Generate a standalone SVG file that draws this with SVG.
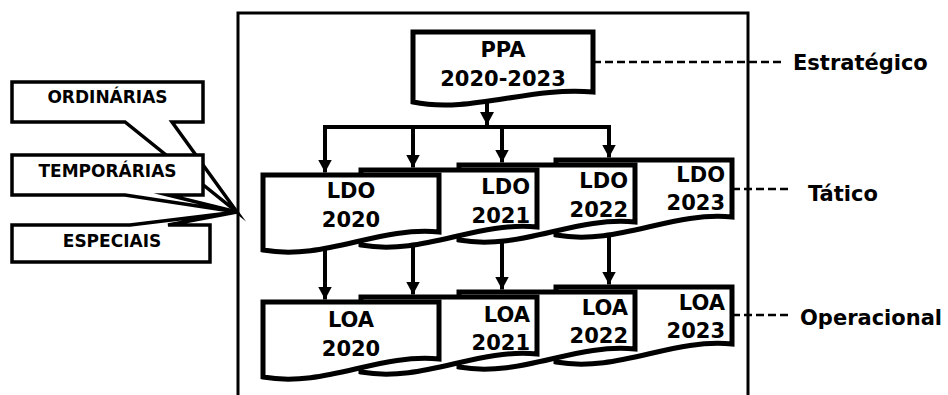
<svg xmlns="http://www.w3.org/2000/svg" width="948" height="395" viewBox="0 0 948 395">
<style>
text{font-family:"DejaVu Sans","Verdana",sans-serif;font-weight:bold;fill:#000}
.t{font-size:21px}
.s{font-size:17px}
.doc{fill:#fff;stroke:#000;stroke-width:5;stroke-linejoin:miter}
.call{fill:#fff;stroke:#000;stroke-width:3.5;stroke-miterlimit:10}
.ln{fill:none;stroke:#000;stroke-width:4}
.dash{fill:none;stroke:#000;stroke-width:2.5;stroke-dasharray:8 4}
</style>
<defs>
<marker id="ah" markerUnits="userSpaceOnUse" markerWidth="13" markerHeight="14" viewBox="0 0 13 14" refX="13" refY="7" orient="auto"><path d="M0,0 L13,7 L0,14 z" fill="#000"/></marker>
<path id="doc" d="M0,0 H176 V57 C115,51 62,86 0,75 Z"/>
</defs>
<rect width="948" height="395" fill="#fff"/>
<g id="frame"><rect x="238" y="13" width="510" height="400" fill="none" stroke="#000" stroke-width="3"/></g>
<g id="connectors">
<path class="ln" d="M487,100 V125" marker-end="url(#ah)"/>
<path class="ln" d="M325,127 H609" stroke-linecap="square"/>
<path class="ln" d="M325,127 V172.5" marker-end="url(#ah)"/>
<path class="ln" d="M413,127 V167.5" marker-end="url(#ah)"/>
<path class="ln" d="M502,127 V162.5" marker-end="url(#ah)"/>
<path class="ln" d="M609,127 V157.5" marker-end="url(#ah)"/>
<path class="ln" d="M325,225 V299.5" marker-end="url(#ah)"/>
<path class="ln" d="M413,225 V294.5" marker-end="url(#ah)"/>
<path class="ln" d="M502,215 V289.5" marker-end="url(#ah)"/>
<path class="ln" d="M609,210 V284.5" marker-end="url(#ah)"/>
<path class="dash" d="M593,62 H785"/>
<path class="dash" d="M732,189 H792"/>
<path class="dash" d="M732,315 H792"/>
</g>
<g id="callout-ordinarias">
<path class="call" d="M12,82 H203 V122 H172 L237,212 L125,122 H12 Z"/>
<text class="s" x="107.5" y="103" text-anchor="middle">ORDINÁRIAS</text>
</g>
<g id="callout-temporarias">
<path class="call" d="M12,155 H203 V195 H168 L237,212 L125,195 H12 Z"/>
<text class="s" x="107.5" y="177" text-anchor="middle">TEMPORÁRIAS</text>
</g>
<g id="callout-especiais">
<path class="call" d="M12,225 H130 L237,212 L168,225 H210 V262 H12 Z"/>
<text class="s" x="112" y="247" text-anchor="middle">ESPECIAIS</text>
</g>
<g id="ppa">
<path class="doc" stroke-width="4.5" d="M413,32 H593 V92 C530,86 470,114 413,102 Z"/>
<text class="t" x="503" y="57" text-anchor="middle">PPA</text>
<text class="t" x="503" y="86" text-anchor="middle">2020-2023</text>
</g>
<g id="ldo-2023">
<use href="#doc" class="doc" x="556" y="160"/>
<text class="t" x="725" y="182" text-anchor="end">LDO</text>
<text class="t" x="725" y="210" text-anchor="end">2023</text>
</g>
<g id="ldo-2022">
<use href="#doc" class="doc" x="459" y="165"/>
<text class="t" x="628" y="188" text-anchor="end">LDO</text>
<text class="t" x="628" y="217" text-anchor="end">2022</text>
</g>
<g id="ldo-2021">
<use href="#doc" class="doc" x="361" y="170"/>
<text class="t" x="530" y="194" text-anchor="end">LDO</text>
<text class="t" x="530" y="223" text-anchor="end">2021</text>
</g>
<g id="ldo-2020">
<use href="#doc" class="doc" x="263" y="175"/>
<text class="t" x="351" y="198" text-anchor="middle">LDO</text>
<text class="t" x="351" y="227" text-anchor="middle">2020</text>
</g>
<g id="loa-2023">
<use href="#doc" class="doc" x="556" y="287"/>
<text class="t" x="725" y="310" text-anchor="end">LOA</text>
<text class="t" x="725" y="338" text-anchor="end">2023</text>
</g>
<g id="loa-2022">
<use href="#doc" class="doc" x="459" y="292"/>
<text class="t" x="628" y="315" text-anchor="end">LOA</text>
<text class="t" x="628" y="343" text-anchor="end">2022</text>
</g>
<g id="loa-2021">
<use href="#doc" class="doc" x="361" y="297"/>
<text class="t" x="530" y="322" text-anchor="end">LOA</text>
<text class="t" x="530" y="350" text-anchor="end">2021</text>
</g>
<g id="loa-2020">
<use href="#doc" class="doc" x="263" y="302"/>
<text class="t" x="351" y="327" text-anchor="middle">LOA</text>
<text class="t" x="351" y="356" text-anchor="middle">2020</text>
</g>
<g id="label-estrategico"><text class="t" x="793" y="70">Estratégico</text></g>
<g id="label-tatico"><text class="t" x="808" y="201">Tático</text></g>
<g id="label-operacional"><text class="t" x="800" y="325">Operacional</text></g>
</svg>
